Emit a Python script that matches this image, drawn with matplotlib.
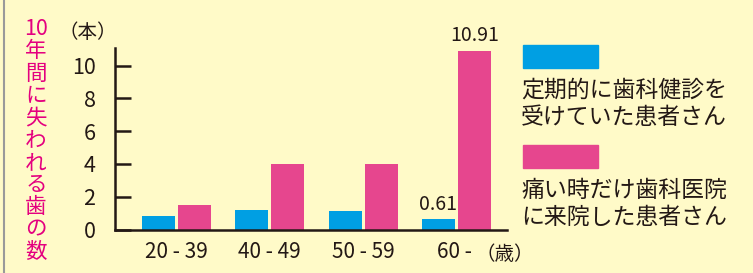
import matplotlib
matplotlib.use("Agg")
import matplotlib.pyplot as plt
import numpy as np
from matplotlib.patches import Rectangle
from matplotlib.lines import Line2D

plt.rcParams["font.family"] = ["Noto Sans CJK JP", "DejaVu Sans"]

# ── Data ─────────────────────────────────────────────────────────────────────
age_groups = ["20 - 39", "40 - 49", "50 - 59", "60 - "]
regular    = [0.8, 1.2, 1.1, 0.61]    # 定期的に歯科健診を受けていた患者さん
pain_only  = [1.5, 4.0, 4.0, 10.91]   # 痛い時だけ歯科医院に来院した患者さん
y_ticks    = [0, 2, 4, 6, 8, 10]
labelled   = {3: True}                 # groups with value labels

legend_labels = ["定期的に歯科健診を\n受けていた患者さん",
                 "痛い時だけ歯科医院\nに来院した患者さん"]
y_title = ["10", "年", "間", "に", "失", "わ", "れ", "る", "歯", "の", "数"]

BG    = "#FFFAC8"
BLUE  = "#009FE3"
PINK  = "#E6468E"
DARK  = "#231815"
MAG   = "#E4007F"

W, H = 753, 273
fig = plt.figure(figsize=(W / 100, H / 100), dpi=100, facecolor=BG)

# left frame edge
fig.add_artist(Line2D([4 / W, 4 / W], [0, 1], color="#9a9a9a", lw=1.5))

ax = fig.add_axes([115 / W, 1 - 229.5 / H, 392 / W, 181.5 / H])
ax.set_facecolor(BG)

x = np.arange(len(age_groups))
bw = 0.354
off = 0.193
ax.bar(x - off, regular, bw, color=BLUE, zorder=2)
ax.bar(x + off, pain_only, bw, color=PINK, zorder=2)

ax.set_xlim(-0.659, 3.542)
ax.set_ylim(0, 11.07)
ax.set_yticks(y_ticks)
ax.set_yticklabels([str(t) for t in y_ticks], fontsize=15.5, color=DARK)
ax.tick_params(axis="y", direction="in", length=11.5, width=1.8, color=DARK, pad=14)
ax.set_xticks(x)
ax.set_xticklabels(age_groups, fontsize=15, color=DARK)
ax.tick_params(axis="x", length=0, pad=8)

for s in ("top", "right"):
    ax.spines[s].set_visible(False)
for s in ("left", "bottom"):
    ax.spines[s].set_linewidth(1.8)
    ax.spines[s].set_color(DARK)

# value labels on the last group
for i in labelled:
    ax.text(x[i] - off, regular[i] + 0.3, f"{regular[i]:.2f}", ha="center",
            va="bottom", fontsize=14, color=DARK, clip_on=False)
    ax.text(x[i] + off, pain_only[i] + 0.3, f"{pain_only[i]:.2f}", ha="center",
            va="bottom", fontsize=14, color=DARK, clip_on=False)

# units
fig.text(88 / W, 1 - 33 / H, "（本）", ha="center", va="center", fontsize=14, color=DARK)
fig.text(505 / W, 1 - 255 / H, "（歳）", ha="center", va="center", fontsize=14, color=DARK)

# vertical title
for k, ch in enumerate(y_title):
    fig.text(36 / W, 1 - (29 + k * 22.3) / H, ch, ha="center", va="center",
             fontsize=15.5, color=MAG)

# legend
for j, (lab, col) in enumerate(zip(legend_labels, [BLUE, PINK])):
    top = 45 + j * 100
    fig.add_artist(Rectangle((523 / W, 1 - (top + 23) / H), 75 / W, 23 / H,
                             color=col, transform=fig.transFigure))
    fig.text(521 / W, 1 - (top + 34) / H, lab, ha="left", va="top",
             fontsize=16.5, color=DARK, linespacing=1.2)

fig.savefig("out.png", dpi=100, facecolor=BG)
